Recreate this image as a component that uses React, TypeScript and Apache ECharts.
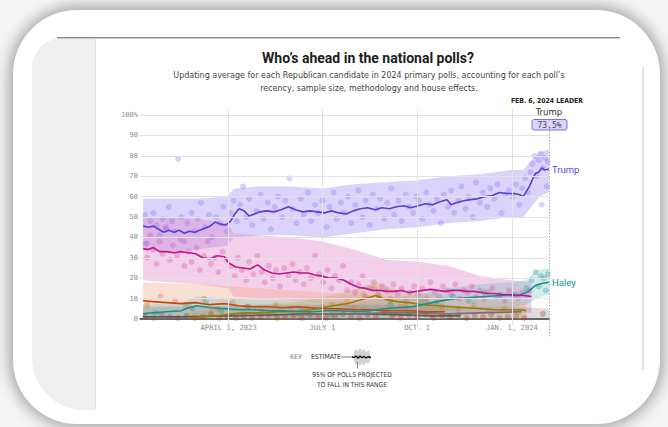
import React, { useEffect, useRef } from 'react';
import * as echarts from 'echarts';

type P = [string, number];

// ---------- average lines ----------
const trumpAvg: P[] = [
  ['2023-01-08', 45.5], ['2023-01-13', 45], ['2023-01-18', 45.5], ['2023-01-23', 44], ['2023-01-28', 42.5],
  ['2023-02-02', 43.5], ['2023-02-07', 42.5], ['2023-02-12', 43.5], ['2023-02-17', 42], ['2023-02-22', 43],
  ['2023-02-27', 42.5], ['2023-03-04', 43.5], ['2023-03-09', 44.5], ['2023-03-14', 45.5], ['2023-03-19', 47.5],
  ['2023-03-24', 46.5], ['2023-03-29', 46], ['2023-04-03', 48], ['2023-04-07', 51.5], ['2023-04-11', 54],
  ['2023-04-16', 53], ['2023-04-21', 50.5], ['2023-04-26', 51.5], ['2023-05-01', 52.5], ['2023-05-08', 53],
  ['2023-05-15', 52.5], ['2023-05-22', 53.5], ['2023-05-29', 55], ['2023-06-05', 53.5], ['2023-06-12', 52.5],
  ['2023-06-19', 53], ['2023-06-26', 52.5], ['2023-07-03', 52], ['2023-07-10', 53], ['2023-07-17', 52],
  ['2023-07-24', 51.5], ['2023-07-31', 53], ['2023-08-07', 54], ['2023-08-14', 54.5], ['2023-08-21', 53.5],
  ['2023-08-28', 54.5], ['2023-09-04', 54], ['2023-09-11', 55], ['2023-09-18', 55.5], ['2023-09-25', 54.5],
  ['2023-10-02', 55.5], ['2023-10-09', 56.5], ['2023-10-16', 56], ['2023-10-23', 57.5], ['2023-10-30', 58.5],
  ['2023-11-03', 56], ['2023-11-08', 57], ['2023-11-15', 58], ['2023-11-22', 58.5], ['2023-11-29', 59],
  ['2023-12-06', 60], ['2023-12-13', 60.5], ['2023-12-20', 62], ['2023-12-27', 61.5], ['2024-01-03', 61.5],
  ['2024-01-08', 61], ['2024-01-12', 60], ['2024-01-15', 62.5], ['2024-01-18', 65], ['2024-01-21', 68.5],
  ['2024-01-24', 71.5], ['2024-01-27', 72], ['2024-01-30', 74], ['2024-02-02', 73], ['2024-02-06', 73.5],
];

const desantisAvg: P[] = [
  ['2023-01-08', 34.5], ['2023-01-13', 34], ['2023-01-18', 35], ['2023-01-24', 33], ['2023-01-31', 33],
  ['2023-02-07', 32.5], ['2023-02-14', 33], ['2023-02-21', 32.5], ['2023-02-28', 32], ['2023-03-07', 30],
  ['2023-03-14', 29.5], ['2023-03-21', 31], ['2023-03-28', 30.5], ['2023-04-01', 27.5], ['2023-04-08', 25.5],
  ['2023-04-15', 25], ['2023-04-22', 24.5], ['2023-04-29', 26.5], ['2023-05-06', 24], ['2023-05-13', 22.5],
  ['2023-05-20', 22], ['2023-05-27', 22.5], ['2023-06-03', 23], ['2023-06-10', 22.5], ['2023-06-17', 22.5],
  ['2023-06-24', 21.5], ['2023-07-01', 21], ['2023-07-08', 20], ['2023-07-15', 20], ['2023-07-22', 19],
  ['2023-07-29', 17], ['2023-08-05', 15.5], ['2023-08-12', 15], ['2023-08-19', 14], ['2023-08-26', 14],
  ['2023-09-02', 13.5], ['2023-09-09', 13.5], ['2023-09-16', 14], ['2023-09-23', 13], ['2023-09-30', 13.5],
  ['2023-10-07', 14], ['2023-10-14', 14.5], ['2023-10-21', 14], ['2023-10-28', 13.5], ['2023-11-04', 14],
  ['2023-11-11', 14], ['2023-11-18', 13.5], ['2023-11-25', 13.5], ['2023-12-02', 13], ['2023-12-09', 12.5],
  ['2023-12-16', 12.5], ['2023-12-23', 12], ['2023-12-30', 12], ['2024-01-06', 11.5], ['2024-01-13', 11.5],
  ['2024-01-20', 11],
];

const haleyAvg: P[] = [
  ['2023-01-08', 2.5], ['2023-01-17', 3], ['2023-01-31', 3.5], ['2023-02-14', 4], ['2023-02-21', 5.5],
  ['2023-03-01', 6.5], ['2023-03-08', 6], ['2023-03-15', 5.5], ['2023-03-29', 5], ['2023-04-12', 4.5],
  ['2023-04-26', 4.5], ['2023-05-10', 4], ['2023-05-24', 4], ['2023-06-07', 3.5], ['2023-06-21', 3.5],
  ['2023-07-05', 4], ['2023-07-19', 4], ['2023-08-02', 3.5], ['2023-08-16', 4], ['2023-08-30', 5],
  ['2023-09-13', 5.5], ['2023-09-27', 6], ['2023-10-11', 7.5], ['2023-10-25', 9], ['2023-11-08', 10],
  ['2023-11-22', 10.5], ['2023-12-06', 11], ['2023-12-20', 11.5], ['2024-01-03', 11.5], ['2024-01-10', 12],
  ['2024-01-17', 13.5], ['2024-01-24', 16.5], ['2024-01-31', 17.5], ['2024-02-06', 18],
];

const ramaswamyAvg: P[] = [
  ['2023-02-21', 0.5], ['2023-03-07', 1], ['2023-03-21', 1.5], ['2023-04-04', 2.5], ['2023-04-18', 3],
  ['2023-05-02', 3], ['2023-05-16', 3.5], ['2023-05-30', 3.5], ['2023-06-13', 4], ['2023-06-27', 5],
  ['2023-07-11', 6.5], ['2023-07-25', 7.5], ['2023-08-05', 9], ['2023-08-12', 10], ['2023-08-22', 11.5],
  ['2023-08-29', 10], ['2023-09-05', 9], ['2023-09-12', 8.5], ['2023-09-23', 8], ['2023-10-07', 7],
  ['2023-10-21', 6.5], ['2023-11-04', 6], ['2023-11-18', 5.5], ['2023-12-02', 5], ['2023-12-16', 4.5],
  ['2023-12-30', 4.5], ['2024-01-10', 4.5], ['2024-01-15', 4],
];

const penceAvg: P[] = [
  ['2023-01-08', 9], ['2023-01-17', 8.5], ['2023-01-31', 8], ['2023-02-14', 7.5], ['2023-02-28', 8],
  ['2023-03-14', 7], ['2023-03-28', 7.5], ['2023-04-11', 6.5], ['2023-04-25', 6], ['2023-05-09', 6],
  ['2023-05-23', 5.5], ['2023-06-06', 6], ['2023-06-20', 5.5], ['2023-07-04', 5], ['2023-07-18', 5],
  ['2023-08-01', 4.5], ['2023-08-15', 4.5], ['2023-08-29', 4], ['2023-09-12', 4], ['2023-09-26', 4],
  ['2023-10-10', 3.5], ['2023-10-28', 3.5],
];

const scottAvg: P[] = [
  ['2023-01-08', 1], ['2023-02-15', 1], ['2023-04-01', 1.5], ['2023-05-15', 2], ['2023-06-15', 2.5],
  ['2023-07-15', 2.5], ['2023-08-15', 2.5], ['2023-09-15', 2], ['2023-10-15', 1.5], ['2023-11-12', 1.5],
];

const christieAvg: P[] = [
  ['2023-06-06', 2], ['2023-07-01', 2.5], ['2023-08-01', 2.5], ['2023-09-01', 3], ['2023-10-01', 3],
  ['2023-11-01', 2.5], ['2023-12-01', 3], ['2024-01-10', 3.5],
];

// ---------- 95% ranges ----------
const trumpBandDates = ['2023-01-08', '2023-02-01', '2023-03-01', '2023-03-31', '2023-04-06', '2023-05-01', '2023-06-01', '2023-07-01', '2023-08-01', '2023-09-01', '2023-10-01', '2023-11-01', '2023-12-01', '2023-12-31', '2024-01-12', '2024-01-20', '2024-01-28', '2024-02-06'];
const trumpBandLo = [34, 33, 34, 36, 40, 41, 41, 40, 42, 44, 45, 47, 48, 50, 50, 55, 60, 62];
const trumpBandHi = [59, 59, 59, 60, 64, 65, 65, 64, 66, 67, 68, 70, 71, 73, 73, 78, 82, 83];

const desantisBandDates = ['2023-01-08', '2023-02-01', '2023-03-01', '2023-03-31', '2023-04-06', '2023-05-01', '2023-06-01', '2023-07-01', '2023-08-01', '2023-09-01', '2023-10-01', '2023-11-01', '2023-12-01', '2024-01-01', '2024-01-20'];
const desantisBandLo = [19, 18, 17, 15, 11, 10, 9, 8, 5, 3, 3, 3, 3, 3, 3];
const desantisBandHi = [50, 50, 49, 47, 42, 41, 40, 38, 34, 29, 28, 26, 21, 19, 18];

const penceBandDates = ['2023-01-08', '2023-02-01', '2023-03-01', '2023-04-01', '2023-05-01', '2023-06-01', '2023-07-01', '2023-08-01', '2023-09-01', '2023-10-01', '2023-10-28'];
const penceBandLo = [1, 1, 1, 1, 1, 0.5, 0.5, 0.5, 0.5, 0, 0];
const penceBandHi = [18, 17.5, 17, 16, 15, 14, 13, 12, 11, 10, 9];

const haleyBandDates = ['2023-01-08', '2023-02-15', '2023-03-01', '2023-04-01', '2023-06-01', '2023-08-01', '2023-09-01', '2023-10-01', '2023-11-01', '2023-12-01', '2024-01-01', '2024-01-15', '2024-01-25', '2024-02-06'];
const haleyBandLo = [0, 0, 1, 0.5, 0, 0, 0.5, 2, 4, 5, 6, 7, 10, 12];
const haleyBandHi = [7, 8, 11, 10, 9, 8, 10, 12, 15, 17, 18, 19, 24, 25];

const ramaswamyBandDates = ['2023-02-21', '2023-04-01', '2023-06-01', '2023-07-15', '2023-08-22', '2023-09-15', '2023-10-15', '2023-11-15', '2023-12-15', '2024-01-15'];
const ramaswamyBandLo = [0, 0, 0, 1, 4, 2, 1, 0.5, 0, 0];
const ramaswamyBandHi = [3, 6, 8, 12, 18, 14, 12, 10, 9, 8];

const otherBandDates = ['2023-01-08', '2023-03-01', '2023-05-01', '2023-07-01', '2023-09-01', '2023-11-01', '2024-01-01', '2024-02-06'];
const otherBandLo = [0, 0, 0, 0, 0, 0, 0, 0];
const otherBandHi = [6, 6, 7, 7, 7, 6, 6, 5];

// ---------- individual polls ----------
const trumpPolls: P[] = [
  ['2023-01-10', 51], ['2023-01-12', 37], ['2023-01-15', 48], ['2023-01-18', 52], ['2023-01-21', 46], ['2023-01-24', 41], ['2023-01-27', 49], ['2023-01-30', 45],
  ['2023-02-02', 55], ['2023-02-05', 48], ['2023-02-08', 43], ['2023-02-11', 78.5], ['2023-02-14', 50], ['2023-02-17', 38], ['2023-02-20', 47], ['2023-02-24', 52], ['2023-02-27', 43],
  ['2023-03-02', 49], ['2023-03-05', 57], ['2023-03-09', 45], ['2023-03-13', 51], ['2023-03-16', 40], ['2023-03-20', 50], ['2023-03-23', 47], ['2023-03-27', 55], ['2023-03-30', 43],
  ['2023-04-03', 52], ['2023-04-06', 58], ['2023-04-09', 48], ['2023-04-12', 56], ['2023-04-15', 65], ['2023-04-18', 50], ['2023-04-21', 59], ['2023-04-24', 46], ['2023-04-28', 53],
  ['2023-05-02', 61], ['2023-05-05', 49], ['2023-05-09', 57], ['2023-05-12', 44], ['2023-05-16', 55], ['2023-05-19', 60], ['2023-05-23', 50], ['2023-05-26', 58], ['2023-05-30', 69],
  ['2023-06-02', 54], ['2023-06-06', 47], ['2023-06-10', 59], ['2023-06-13', 51], ['2023-06-17', 62], ['2023-06-20', 48], ['2023-06-24', 56], ['2023-06-27', 52],
  ['2023-07-01', 58], ['2023-07-05', 45], ['2023-07-08', 55], ['2023-07-12', 62], ['2023-07-15', 49], ['2023-07-19', 57], ['2023-07-22', 52], ['2023-07-26', 60], ['2023-07-29', 47],
  ['2023-08-02', 56], ['2023-08-05', 63], ['2023-08-09', 50], ['2023-08-12', 58], ['2023-08-16', 46], ['2023-08-19', 61], ['2023-08-23', 54], ['2023-08-26', 59], ['2023-08-30', 49],
  ['2023-09-02', 57], ['2023-09-06', 64], ['2023-09-09', 51], ['2023-09-13', 58], ['2023-09-16', 48], ['2023-09-20', 61], ['2023-09-23', 55], ['2023-09-27', 52], ['2023-09-30', 60],
  ['2023-10-03', 58], ['2023-10-06', 49], ['2023-10-10', 62], ['2023-10-13', 56], ['2023-10-17', 53], ['2023-10-20', 59], ['2023-10-24', 47], ['2023-10-27', 61], ['2023-10-31', 55],
  ['2023-11-03', 63], ['2023-11-06', 52], ['2023-11-10', 58], ['2023-11-13', 65], ['2023-11-17', 54], ['2023-11-20', 60], ['2023-11-24', 50], ['2023-11-27', 67],
  ['2023-12-01', 57], ['2023-12-04', 62], ['2023-12-08', 55], ['2023-12-11', 64], ['2023-12-15', 59], ['2023-12-18', 66], ['2023-12-22', 52], ['2023-12-26', 61], ['2023-12-29', 63],
  ['2024-01-02', 60], ['2024-01-05', 66], ['2024-01-08', 56], ['2024-01-11', 64], ['2024-01-14', 69], ['2024-01-17', 62], ['2024-01-19', 72], ['2024-01-21', 76], ['2024-01-23', 80],
  ['2024-01-25', 70], ['2024-01-27', 78], ['2024-01-29', 81], ['2024-01-30', 56], ['2024-01-31', 74], ['2024-02-02', 79], ['2024-02-04', 65], ['2024-02-05', 77],
];

const desantisPolls: P[] = [
  ['2023-01-10', 37], ['2023-01-12', 30], ['2023-01-15', 41], ['2023-01-18', 34], ['2023-01-21', 27], ['2023-01-24', 38], ['2023-01-27', 32], ['2023-01-30', 44],
  ['2023-02-03', 29], ['2023-02-06', 36], ['2023-02-10', 31], ['2023-02-13', 39], ['2023-02-17', 26], ['2023-02-21', 33], ['2023-02-24', 28],
  ['2023-03-01', 35], ['2023-03-04', 24], ['2023-03-08', 31], ['2023-03-12', 38], ['2023-03-15', 27], ['2023-03-19', 30], ['2023-03-22', 23], ['2023-03-26', 33], ['2023-03-30', 29],
  ['2023-04-03', 26], ['2023-04-07', 21], ['2023-04-10', 30], ['2023-04-14', 24], ['2023-04-18', 19], ['2023-04-21', 28], ['2023-04-25', 22], ['2023-04-29', 31],
  ['2023-05-03', 23], ['2023-05-06', 18], ['2023-05-10', 26], ['2023-05-14', 20], ['2023-05-17', 24], ['2023-05-21', 16], ['2023-05-25', 25], ['2023-05-29', 21],
  ['2023-06-02', 27], ['2023-06-05', 19], ['2023-06-09', 23], ['2023-06-13', 17], ['2023-06-16', 25], ['2023-06-20', 20], ['2023-06-24', 31], ['2023-06-28', 22],
  ['2023-07-02', 18], ['2023-07-06', 24], ['2023-07-10', 15], ['2023-07-13', 21], ['2023-07-17', 19], ['2023-07-21', 26], ['2023-07-25', 14], ['2023-07-29', 18],
  ['2023-08-02', 13], ['2023-08-05', 17], ['2023-08-09', 21], ['2023-08-12', 11], ['2023-08-16', 15], ['2023-08-20', 18], ['2023-08-24', 12], ['2023-08-28', 16],
  ['2023-09-01', 14], ['2023-09-05', 10], ['2023-09-08', 17], ['2023-09-12', 12], ['2023-09-16', 15], ['2023-09-20', 9], ['2023-09-24', 13], ['2023-09-28', 16],
  ['2023-10-02', 12], ['2023-10-06', 15], ['2023-10-10', 10], ['2023-10-14', 18], ['2023-10-18', 13], ['2023-10-22', 11], ['2023-10-26', 16], ['2023-10-30', 14],
  ['2023-11-03', 12], ['2023-11-07', 17], ['2023-11-11', 10], ['2023-11-15', 14], ['2023-11-19', 13], ['2023-11-23', 16], ['2023-11-27', 11],
  ['2023-12-01', 14], ['2023-12-05', 10], ['2023-12-09', 13], ['2023-12-13', 15], ['2023-12-17', 11], ['2023-12-21', 12], ['2023-12-25', 9], ['2023-12-29', 14],
  ['2024-01-03', 12], ['2024-01-07', 10], ['2024-01-11', 13], ['2024-01-15', 11], ['2024-01-18', 14],
];

const haleyPolls: P[] = [
  ['2023-01-20', 3], ['2023-02-18', 7], ['2023-02-25', 5], ['2023-03-10', 8], ['2023-03-25', 4], ['2023-04-20', 6],
  ['2023-05-15', 3], ['2023-06-10', 5], ['2023-07-10', 2], ['2023-08-10', 4], ['2023-09-05', 7], ['2023-09-20', 5],
  ['2023-10-05', 9], ['2023-10-20', 8], ['2023-11-05', 11], ['2023-11-20', 9], ['2023-12-05', 13], ['2023-12-20', 11],
  ['2024-01-05', 12], ['2024-01-15', 15], ['2024-01-20', 19], ['2024-01-24', 23], ['2024-01-27', 16], ['2024-01-29', 21],
  ['2024-02-01', 20], ['2024-02-03', 14], ['2024-02-05', 22],
];

const ramaswamyPolls: P[] = [
  ['2023-04-15', 2], ['2023-05-15', 3], ['2023-06-15', 5], ['2023-07-10', 7], ['2023-07-25', 9], ['2023-08-10', 12],
  ['2023-08-20', 15], ['2023-08-25', 11], ['2023-09-05', 9], ['2023-09-20', 7], ['2023-10-10', 8], ['2023-10-25', 6],
  ['2023-11-10', 5], ['2023-11-25', 7], ['2023-12-10', 4], ['2023-12-25', 5], ['2024-01-08', 3],
];

const pencePolls: P[] = [
  ['2023-01-12', 7], ['2023-01-25', 11], ['2023-02-08', 9], ['2023-02-22', 6], ['2023-03-08', 10], ['2023-03-22', 5],
  ['2023-04-05', 8], ['2023-04-19', 6], ['2023-05-03', 4], ['2023-05-17', 7], ['2023-06-01', 5], ['2023-06-15', 3],
  ['2023-07-01', 6], ['2023-07-15', 4], ['2023-08-01', 5], ['2023-08-15', 3], ['2023-09-01', 4], ['2023-09-15', 6],
  ['2023-10-01', 3], ['2023-10-15', 2],
];

const otherPolls: P[] = [
  ['2023-01-10', 1], ['2023-01-18', 0.5], ['2023-01-26', 2], ['2023-02-03', 1], ['2023-02-11', 0.5], ['2023-02-19', 1.5],
  ['2023-02-27', 0.5], ['2023-03-07', 1], ['2023-03-15', 2.5], ['2023-03-23', 0.5], ['2023-03-31', 1], ['2023-04-08', 0.5],
  ['2023-04-16', 1.5], ['2023-04-24', 0.5], ['2023-05-02', 1], ['2023-05-10', 2], ['2023-05-18', 0.5], ['2023-05-26', 1],
  ['2023-06-03', 1.5], ['2023-06-11', 0.5], ['2023-06-19', 2], ['2023-06-27', 1], ['2023-07-05', 0.5], ['2023-07-13', 1.5],
  ['2023-07-21', 2.5], ['2023-07-29', 1], ['2023-08-06', 0.5], ['2023-08-14', 2], ['2023-08-22', 1], ['2023-08-30', 3],
  ['2023-09-07', 1.5], ['2023-09-15', 0.5], ['2023-09-23', 2], ['2023-10-01', 1], ['2023-10-09', 2.5], ['2023-10-17', 0.5],
  ['2023-10-25', 1.5], ['2023-11-02', 1], ['2023-11-10', 2], ['2023-11-18', 0.5], ['2023-11-26', 1.5], ['2023-12-04', 1],
  ['2023-12-12', 2], ['2023-12-20', 0.5], ['2023-12-28', 1], ['2024-01-05', 1.5], ['2024-01-13', 0.5], ['2024-01-31', 2.5],
];

// ---------- axes ----------
const xMin = '2023-01-05';
const xMax = '2024-02-06';
const xTickDates = ['2023-04-01', '2023-07-01', '2023-10-01', '2024-01-01'];
const xTickLabels = ['APRIL 1, 2023', 'JULY 1', 'OCT. 1', 'JAN. 1, 2024'];
const yTicks = [0, 10, 20, 30, 40, 50, 60, 70, 80, 90, 100];
const leaderDate = '2024-02-06';
const leaderName = 'Trump';
const leaderValue = '73.5%';

const ts = (s: string) => {
  const [y, m, d] = s.split('-').map(Number);
  return new Date(y, m - 1, d).getTime();
};
const toData = (arr: P[]) => arr.map(([d, v]) => [ts(d), v]);

const MONO = '"DejaVu Sans Mono", "Liberation Mono", monospace';
const NARROW = '"Liberation Sans Narrow", "DejaVu Sans Condensed", "Roboto Condensed", Roboto, sans-serif';
const SANS = 'Roboto, "Noto Sans", sans-serif';

// Bands: value stored in column 0 (so the stack sums the value, not the date), date in column 1.
function band(id: string, dates: string[], lo: number[], hi: number[], color: string) {
  return [
    {
      type: 'line', stack: id, encode: { x: 1, y: 0 }, data: dates.map((d, i) => [lo[i], ts(d)]), symbol: 'none',
      lineStyle: { width: 0, opacity: 0 }, silent: true, z: 1,
    },
    {
      type: 'line', stack: id, encode: { x: 1, y: 0 }, data: dates.map((d, i) => [hi[i] - lo[i], ts(d)]), symbol: 'none',
      lineStyle: { width: 0, opacity: 0 }, areaStyle: { color, opacity: 1 }, silent: true, z: 1,
    },
  ];
}

function dots(data: P[], color: string) {
  return {
    type: 'scatter', data: toData(data), symbolSize: 6, silent: true, z: 2,
    itemStyle: { color },
  };
}

function avgLine(data: P[], color: string, label?: string) {
  const s: any = {
    type: 'line', data: toData(data), showSymbol: false, symbol: 'none', silent: true, z: 4,
    lineStyle: { color, width: 1.6 },
  };
  if (label) {
    s.endLabel = {
      show: true, formatter: label, color, fontSize: 9.5, fontFamily: SANS, distance: 3,
    };
  }
  return s;
}

export default function App() {
  const ref = useRef<HTMLDivElement>(null);

  useEffect(() => {
    if (!ref.current) return;
    const chart = echarts.init(ref.current, undefined, { renderer: 'svg' });
    const labelMap = new Map(xTickDates.map((d, i) => [ts(d), xTickLabels[i]]));

    const gridSeries = {
      type: 'line', data: [], silent: true, z: 0,
      markLine: {
        silent: true, symbol: ['none', 'none'], label: { show: false }, animation: false,
        lineStyle: { color: '#e2e2e2', width: 1, type: 'solid' },
        data: [
          ...yTicks.filter((v) => v > 0).map((v) => ({ yAxis: v })),
          ...xTickDates.map((d) => [{ coord: [ts(d), 103] }, { coord: [ts(d), -3.2] }]),
        ],
      },
    };
    const leaderSeries = {
      type: 'line', data: [], silent: true, z: 5,
      markLine: {
        silent: true, symbol: ['none', 'none'], label: { show: false }, animation: false,
        lineStyle: { color: '#8a8a8a', width: 1, type: [1, 2] },
        data: [[{ coord: [ts(leaderDate), 93.5] }, { coord: [ts(leaderDate), -8.5] }]],
      },
    };

    chart.setOption({
      animation: false,
      grid: { left: 140, right: 119, top: 108.9, bottom: 89.7 },
      xAxis: {
        type: 'value', min: ts(xMin), max: ts(xMax),
        axisLine: { show: true, onZero: true, lineStyle: { color: '#333', width: 1.5 } },
        axisTick: { show: false },
        splitLine: { show: false },
        axisLabel: {
          customValues: xTickDates.map(ts),
          formatter: (v: number) => labelMap.get(v) || '',
          color: '#8a8a8a', fontFamily: MONO, fontSize: 7.2, margin: -13,
        },
      },
      yAxis: {
        type: 'value', min: -9, max: 103,
        axisLine: { show: false }, axisTick: { show: false }, splitLine: { show: false },
        axisLabel: {
          customValues: yTicks,
          formatter: (v: number) => (v === 100 ? '100%' : String(v)),
          color: '#8a8a8a', fontFamily: MONO, fontSize: 7, margin: 2,
        },
      },
      series: [
        gridSeries,
        ...band('bT', trumpBandDates, trumpBandLo, trumpBandHi, 'rgba(170,150,245,0.42)'),
        ...band('bD', desantisBandDates, desantisBandLo, desantisBandHi, 'rgba(224,128,198,0.38)'),
        ...band('bP', penceBandDates, penceBandLo, penceBandHi, 'rgba(240,165,130,0.34)'),
        ...band('bH', haleyBandDates, haleyBandLo, haleyBandHi, 'rgba(90,180,180,0.27)'),
        ...band('bR', ramaswamyBandDates, ramaswamyBandLo, ramaswamyBandHi, 'rgba(190,165,80,0.24)'),
        ...band('bO', otherBandDates, otherBandLo, otherBandHi, 'rgba(110,110,110,0.24)'),
        dots(trumpPolls, 'rgba(140,118,236,0.42)'),
        dots(desantisPolls, 'rgba(214,84,176,0.42)'),
        dots(haleyPolls, 'rgba(40,150,150,0.4)'),
        dots(ramaswamyPolls, 'rgba(170,140,30,0.4)'),
        dots(pencePolls, 'rgba(215,100,60,0.4)'),
        dots(otherPolls, 'rgba(190,40,40,0.4)'),
        avgLine(scottAvg, '#5a5a5a'),
        avgLine(christieAvg, '#6d7474'),
        avgLine(penceAvg, '#c84612'),
        avgLine(ramaswamyAvg, '#9c7a08'),
        avgLine(haleyAvg, '#15908f', 'Haley'),
        avgLine(desantisAvg, '#c2168b'),
        avgLine(trumpAvg, '#5a3ed8', 'Trump'),
        leaderSeries,
      ],
      graphic: [
        {
          type: 'text', x: 368, y: 58, silent: true,
          style: { text: 'Who’s ahead in the national polls?', fill: '#1c1c1c', font: `bold 14px ${SANS}`, textAlign: 'center', textVerticalAlign: 'middle' },
        },
        {
          type: 'text', x: 369, y: 75, silent: true,
          style: { text: 'Updating average for each Republican candidate in 2024 primary polls, accounting for each poll’s', fill: '#444', font: `8.9px ${NARROW}`, textAlign: 'center', textVerticalAlign: 'middle' },
        },
        {
          type: 'text', x: 369, y: 87.5, silent: true,
          style: { text: 'recency, sample size, methodology and house effects.', fill: '#444', font: `8.9px ${NARROW}`, textAlign: 'center', textVerticalAlign: 'middle' },
        },
        {
          type: 'text', x: 583, y: 101, silent: true,
          style: { text: 'FEB. 6, 2024 LEADER', fill: '#222', font: `bold 6.8px ${NARROW}`, textAlign: 'right', textVerticalAlign: 'middle' },
        },
        {
          type: 'text', x: 549, y: 111.5, silent: true,
          style: { text: leaderName, fill: '#333', font: `9.5px ${NARROW}`, textAlign: 'center', textVerticalAlign: 'middle' },
        },
        {
          type: 'rect', silent: true, shape: { x: 532, y: 119.5, width: 35, height: 10.5, r: 2 },
          style: { fill: '#dcd4fb', stroke: '#7f6ee6', lineWidth: 1 },
        },
        {
          type: 'text', x: 549.5, y: 125, silent: true,
          style: { text: leaderValue, fill: '#444', font: `8px ${MONO}`, textAlign: 'center', textVerticalAlign: 'middle' },
        },
        {
          type: 'text', x: 296, y: 357, silent: true,
          style: { text: 'KEY', fill: '#7a7a7a', font: `6.5px ${MONO}`, textAlign: 'center', textVerticalAlign: 'middle' },
        },
        {
          type: 'text', x: 326, y: 357, silent: true,
          style: { text: 'ESTIMATE', fill: '#333', font: `6.8px ${NARROW}`, textAlign: 'center', textVerticalAlign: 'middle' },
        },
        {
          type: 'line', silent: true, shape: { x1: 341, y1: 357, x2: 353, y2: 357 },
          style: { stroke: '#555', lineWidth: 0.8 },
        },
        {
          type: 'polygon', silent: true,
          shape: { points: [[354, 352], [356, 349], [358, 351], [360, 348], [362, 351], [364, 349], [366, 352], [369, 350], [370, 354], [370, 361], [368, 364], [366, 362], [364, 366], [362, 363], [360, 366], [358, 363], [356, 365], [354, 362]] },
          style: { fill: '#d2d2d2' },
        },
        {
          type: 'polyline', silent: true,
          shape: { points: [[352, 357], [354, 357.5], [356, 356], [358, 358], [360, 356.2], [362, 357.8], [364, 356.3], [366, 358], [368, 356.8], [371, 357.5]] },
          style: { stroke: '#111', lineWidth: 1.3, fill: null },
        },
        {
          type: 'line', silent: true, shape: { x1: 357.5, y1: 362, x2: 357.5, y2: 368.5 },
          style: { stroke: '#666', lineWidth: 0.8 },
        },
        {
          type: 'text', x: 352, y: 375, silent: true,
          style: { text: '95% OF POLLS PROJECTED', fill: '#333', font: `6.6px ${NARROW}`, textAlign: 'center', textVerticalAlign: 'middle' },
        },
        {
          type: 'text', x: 352, y: 384.5, silent: true,
          style: { text: 'TO FALL IN THIS RANGE', fill: '#333', font: `6.6px ${NARROW}`, textAlign: 'center', textVerticalAlign: 'middle' },
        },
      ],
    });
    return () => chart.dispose();
  }, []);

  return (
    <div style={{ position: 'absolute', left: 0, top: 0, width: 668, height: 427, overflow: 'hidden', background: '#f4f4f4' }}>
      <div style={{ position: 'absolute', left: 13, top: 10, width: 647, height: 414, borderRadius: 64, background: '#fff', boxShadow: '0 0 14px 4px rgba(0,0,0,0.32)' }} />
      <div style={{ position: 'absolute', left: 32, top: 38, width: 63, height: 372, background: '#efefef', borderTopLeftRadius: 30, borderBottomLeftRadius: 52 }} />
      <div style={{ position: 'absolute', left: 95, top: 38, width: 1, height: 372, background: '#e3e3e3' }} />
      <div style={{ position: 'absolute', left: 57, top: 36.5, width: 563, height: 1, background: '#8c8c8c', borderBottom: '1px solid #c9c9c9' }} />
      <div style={{ position: 'absolute', left: 642, top: 67, width: 2, height: 303, background: '#e2e2e2' }} />
      <div ref={ref} style={{ position: 'absolute', left: 0, top: 0, width: 668, height: 427 }} />
    </div>
  );
}
